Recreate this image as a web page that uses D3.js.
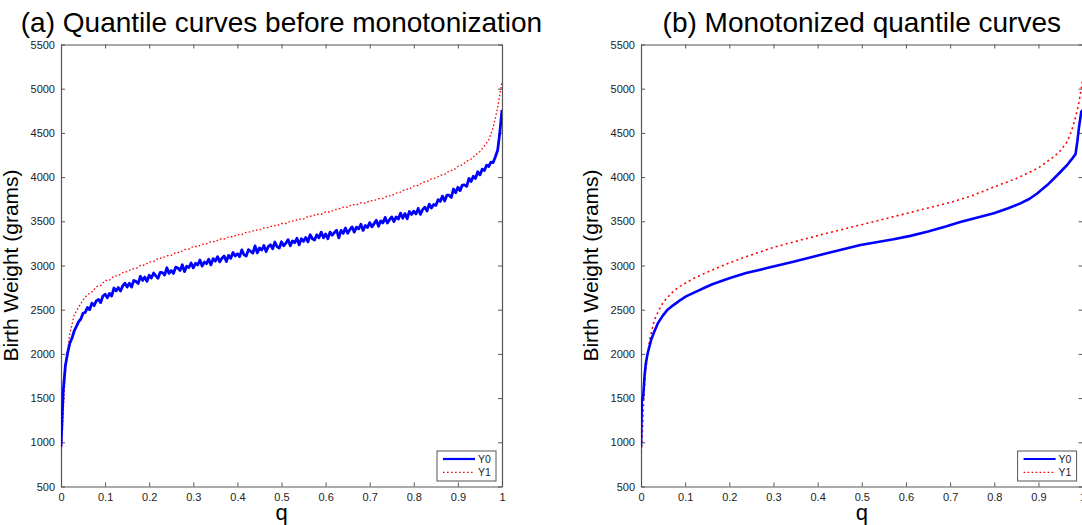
<!DOCTYPE html>
<html>
<head>
<meta charset="utf-8">
<script src="https://cdn.jsdelivr.net/npm/d3@7"></script>
<style>
  body { margin: 0; background: #fff; }
  text { font-family: "Liberation Sans", Arial, Helvetica, sans-serif; }
</style>
</head>
<body>
<svg id="chart" width="1082" height="525"></svg>
<script>
// y ticks and x ticks (shared by both panels)
var yTicks = [500, 1000, 1500, 2000, 2500, 3000, 3500, 4000, 4500, 5000, 5500];
var xTicks = [0, 0.1, 0.2, 0.3, 0.4, 0.5, 0.6, 0.7, 0.8, 0.9, 1];
var seriesNames = ["Y0", "Y1"];

// (a) raw quantile curves, Y0 on a 0.005 grid of q, Y1 on a 0.01 grid
var rawY0 = [
  950, 1580, 1870, 2010, 2120, 2180, 2260, 2310, 2365, 2395,
  2460, 2470, 2525, 2500, 2575, 2545, 2600, 2615, 2580, 2655,
  2675, 2635, 2685, 2655, 2745, 2713, 2750, 2712, 2769, 2800,
  2755, 2800, 2755, 2830, 2820, 2795, 2878, 2831, 2869, 2822,
  2890, 2858, 2915, 2883, 2855, 2923, 2920, 2892, 2974, 2911,
  2943, 2910, 2981, 2972, 2943, 3009, 2930, 2991, 2977, 3028,
  2974, 3025, 3006, 3062, 2993, 3039, 3020, 3071, 3007, 3078,
  3049, 3100, 3041, 3082, 3108, 3044, 3115, 3081, 3147, 3108,
  3134, 3100, 3176, 3122, 3108, 3179, 3160, 3141, 3222, 3143,
  3199, 3175, 3226, 3157, 3213, 3234, 3190, 3266, 3212, 3198,
  3268, 3223, 3253, 3293, 3223, 3278, 3258, 3308, 3233, 3303,
  3273, 3318, 3268, 3348, 3303, 3288, 3348, 3313, 3378, 3313,
  3358, 3303, 3378, 3343, 3373, 3398, 3313, 3398, 3363, 3424,
  3365, 3406, 3437, 3378, 3434, 3415, 3466, 3397, 3453, 3429,
  3485, 3437, 3474, 3511, 3443, 3505, 3482, 3544, 3481, 3518,
  3550, 3497, 3549, 3526, 3593, 3535, 3587, 3529, 3611, 3578,
  3615, 3583, 3646, 3579, 3632, 3660, 3615, 3695, 3650, 3690,
  3680, 3745, 3725, 3785, 3730, 3795, 3795, 3770, 3865, 3823,
  3885, 3847, 3910, 3913, 3896, 3985, 3950, 4010, 3985, 4060,
  4025, 4090, 4075, 4135, 4120, 4170, 4165, 4230, 4300, 4500,
  4760
];
var rawY1 = [
  800, 1850, 2230, 2440, 2530, 2610, 2670, 2700, 2760, 2775,
  2830, 2835, 2880, 2885, 2920, 2930, 2960, 2965, 3000, 3005,
  3040, 3045, 3080, 3085, 3110, 3115, 3145, 3150, 3180, 3185,
  3215, 3215, 3240, 3245, 3270, 3270, 3300, 3300, 3325, 3325,
  3350, 3350, 3375, 3380, 3400, 3400, 3425, 3430, 3450, 3450,
  3475, 3475, 3500, 3505, 3525, 3525, 3555, 3560, 3580, 3580,
  3605, 3605, 3630, 3640, 3660, 3660, 3690, 3685, 3710, 3705,
  3730, 3735, 3755, 3760, 3785, 3790, 3820, 3830, 3860, 3865,
  3900, 3905, 3940, 3950, 3980, 3990, 4020, 4030, 4070, 4080,
  4120, 4140, 4180, 4205, 4250, 4290, 4350, 4420, 4560, 4780,
  5080
];

// (b) monotonized curves
var monoQ0 = [0, 0.002, 0.005, 0.008, 0.011, 0.015, 0.023, 0.03, 0.038, 0.049, 0.06, 0.07, 0.079, 0.09,
  0.102, 0.125, 0.15, 0.163, 0.2, 0.238, 0.283, 0.345, 0.421, 0.497, 0.572, 0.61, 0.648, 0.69, 0.723,
  0.76, 0.799, 0.83, 0.859, 0.88, 0.897, 0.92, 0.943, 0.965, 0.975, 0.984, 0.988, 0.992, 0.997, 1];
var monoY0 = [950, 1480, 1520, 1750, 1895, 2005, 2160, 2250, 2345, 2430, 2500, 2540, 2572, 2612,
  2650, 2705, 2762, 2790, 2855, 2915, 2968, 3043, 3138, 3232, 3296, 3335, 3382, 3440, 3492,
  3540, 3590, 3645, 3703, 3755, 3815, 3910, 4024, 4137, 4200, 4260, 4400, 4570, 4740, 4760];
var monoQ1 = [0, 0.003, 0.006, 0.01, 0.02, 0.03, 0.04, 0.05, 0.06, 0.07, 0.08, 0.09, 0.1, 0.12, 0.15,
  0.2, 0.25, 0.3, 0.35, 0.4, 0.45, 0.5, 0.55, 0.6, 0.65, 0.7, 0.75, 0.8, 0.85, 0.875, 0.9, 0.935,
  0.95, 0.965, 0.975, 0.984, 0.99, 0.997, 1];
var monoY1 = [820, 1105, 1480, 1800, 2170, 2380, 2490, 2580, 2640, 2690, 2735, 2770, 2800, 2855, 2925,
  3030, 3120, 3205, 3272, 3338, 3400, 3462, 3525, 3588, 3650, 3712, 3790, 3890, 3985, 4043, 4105, 4231,
  4300, 4400, 4520, 4680, 4800, 5000, 5098];

var gridY0 = d3.range(rawY0.length).map(function(i){ return i / 200; });
var gridY1 = d3.range(rawY1.length).map(function(i){ return i / 100; });

var svg = d3.select('#chart');
var plotTop = 44.5, plotBottom = 486.5;

var panels = [
  { left: 61, right: 502, title: '(a) Quantile curves before monotonization',
    q0: gridY0, v0: rawY0, q1: gridY1, v1: rawY1, dash: '1.6,2.2', w1: 1.3, w0: 2.8 },
  { left: 641, right: 1082.6, title: '(b) Monotonized quantile curves',
    q0: monoQ0, v0: monoY0, q1: monoQ1, v1: monoY1, dash: '2,3.2', w1: 1.6, w0: 2.6 }
];

panels.forEach(function(p, pi) {
  var x = d3.scaleLinear().domain([0, 1]).range([p.left, p.right]);
  var y = d3.scaleLinear().domain([500, 5500]).range([plotBottom, plotTop]);
  var g = svg.append('g');

  // frame with inward ticks (matlab style)
  var fmtX = function(d){ return d3.format('~g')(d); };
  g.append('g').attr('transform', 'translate(0,' + plotBottom + ')')
    .call(d3.axisBottom(x).tickValues(xTicks).tickFormat(fmtX).tickSizeInner(-4).tickSizeOuter(0).tickPadding(7));
  g.append('g').attr('transform', 'translate(0,' + plotTop + ')')
    .call(d3.axisTop(x).tickValues(xTicks).tickFormat('').tickSizeInner(-4).tickSizeOuter(0));
  g.append('g').attr('transform', 'translate(' + p.left + ',0)')
    .call(d3.axisLeft(y).tickValues(yTicks).tickFormat(d3.format('d')).tickSizeInner(-4).tickSizeOuter(0).tickPadding(6));
  g.append('g').attr('transform', 'translate(' + p.right + ',0)')
    .call(d3.axisRight(y).tickValues(yTicks).tickFormat('').tickSizeInner(-4).tickSizeOuter(0));

  g.selectAll('.domain').attr('stroke', '#555').attr('stroke-width', 1.2);
  g.selectAll('.tick line').attr('stroke', '#555');
  g.selectAll('.tick text').attr('fill', '#222').style('font-size', '11px');

  var clipId = 'clip' + pi;
  svg.append('clipPath').attr('id', clipId).append('rect')
    .attr('x', p.left).attr('y', plotTop).attr('width', p.right - p.left).attr('height', plotBottom - plotTop);

  var line = d3.line().x(function(d){ return x(d[0]); }).y(function(d){ return y(d[1]); });
  var pts1 = p.q1.map(function(q, i){ return [q, p.v1[i]]; });
  var pts0 = p.q0.map(function(q, i){ return [q, p.v0[i]]; });

  var plot = g.append('g').attr('clip-path', 'url(#' + clipId + ')');
  plot.append('path').datum(pts1).attr('d', line)
    .attr('fill', 'none').attr('stroke', '#ff0000').attr('stroke-width', p.w1)
    .attr('stroke-dasharray', p.dash);
  plot.append('path').datum(pts0).attr('d', line)
    .attr('fill', 'none').attr('stroke', '#0000ff').attr('stroke-width', p.w0)
    .attr('stroke-linejoin', 'round');

  // titles and labels
  var cx = (p.left + p.right) / 2;
  svg.append('text').attr('x', cx).attr('y', 32).attr('text-anchor', 'middle')
    .style('font-size', '28px').attr('fill', '#000').text(p.title);
  svg.append('text').attr('transform', 'translate(' + (p.left - 43) + ',' + ((plotTop + plotBottom) / 2) + ') rotate(-90)')
    .attr('text-anchor', 'middle').style('font-size', '21px').attr('fill', '#000')
    .text('Birth Weight (grams)');
  svg.append('text').attr('x', cx).attr('y', 520).attr('text-anchor', 'middle')
    .style('font-size', '22px').attr('fill', '#000').text('q');

  // legend
  var lx = p.right - 65, ly = plotBottom - 35.5;
  var lg = svg.append('g').attr('transform', 'translate(' + lx + ',' + ly + ')');
  lg.append('rect').attr('width', 59).attr('height', 30)
    .attr('fill', '#fff').attr('stroke', '#555').attr('stroke-width', 1);
  seriesNames.forEach(function(name, i) {
    var yy = 8 + i * 13.3;
    lg.append('line').attr('x1', 6).attr('x2', 38).attr('y1', yy).attr('y2', yy)
      .attr('stroke', i === 0 ? '#0000ff' : '#ff0000')
      .attr('stroke-width', i === 0 ? 2.2 : 1.3)
      .attr('stroke-dasharray', i === 0 ? null : '1.6,2.4');
    lg.append('text').attr('x', 41).attr('y', yy + 3.8)
      .style('font-size', '10.5px').attr('fill', '#222').text(name);
  });
});
</script>
</body>
</html>
